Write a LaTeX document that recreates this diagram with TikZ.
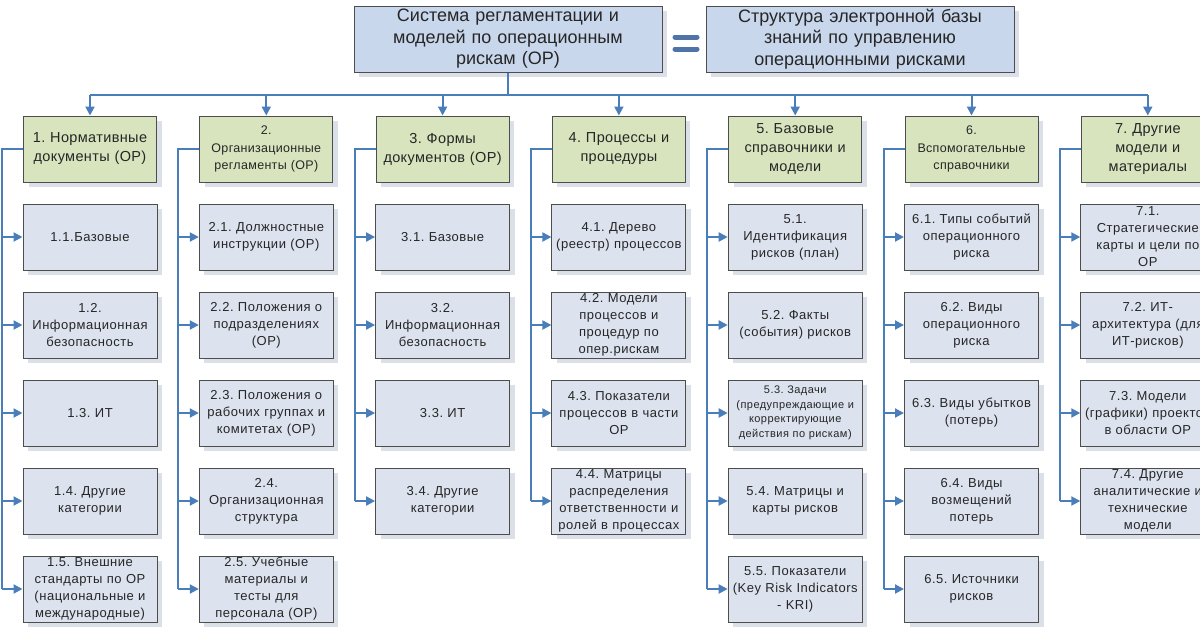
\documentclass[tikz,border=0pt]{standalone}
\usepackage{fontspec}
\setmainfont{Liberation Sans}
\newfontfamily\kidfont[LetterSpace=4]{Liberation Sans}
\newfontfamily\headfont[LetterSpace=2.5]{Liberation Sans}
\frenchspacing
\usetikzlibrary{arrows.meta,shadows}
\definecolor{linec}{HTML}{4A7EBB}
\definecolor{eqc}{HTML}{4F74A8}
\definecolor{topfill}{HTML}{C9D7EC}
\definecolor{headfill}{HTML}{D7E4BD}
\definecolor{kidfill}{HTML}{DCE2EE}
\definecolor{bordc}{HTML}{4D4D4D}
\definecolor{shadc}{HTML}{DADFE8}
\definecolor{txtc}{HTML}{262626}
\tikzset{
  basebox/.style={draw=bordc, line width=1pt, align=center, inner sep=1pt, text=txtc,
    drop shadow={shadow xshift=5pt, shadow yshift=-5pt, fill=shadc, opacity=1}},
  topbox/.style={basebox, fill=topfill, minimum width=308pt, minimum height=66pt, text width=300pt,
    font=\fontsize{18}{21.5}\selectfont},
  headbox/.style={basebox, fill=headfill, minimum width=133pt, minimum height=66pt, text width=130pt,
    font=\headfont\fontsize{14.5}{19}\selectfont},
  headsmall/.style={headbox, font=\headfont\fontsize{12.5}{17.5}\selectfont},
  kidbox/.style={basebox, fill=kidfill, minimum width=133pt, minimum height=66pt, text width=132pt,
    font=\kidfont\fontsize{13}{17}\selectfont},
  kidsmall/.style={kidbox, font=\kidfont\fontsize{11}{14.5}\selectfont},
  conn/.style={draw=linec, line width=2pt},
  arr/.style={conn, -{Triangle[length=9pt,width=9pt]}},
  eqbar/.style={draw=eqc, line width=5pt, line cap=round}
}
\begin{document}
\begin{tikzpicture}[x=1pt,y=-1pt]
\useasboundingbox (0,0) rectangle (1200,630);
\fill[white] (0,0) rectangle (1200,630);
% top
\node[topbox] (sys) at (508,39) {Система регламентации и\\моделей по операционным\\рискам (ОР)};
\node[topbox] (kb) at (860,39) {Структура электронной базы\\знаний по управлению\\операционными рисками};
\draw[eqbar] (675,37) -- (697,37);
\draw[eqbar] (675,49) -- (697,49);
% heads
\node[headbox]   (h1) at (90,149)    {1. Нормативные\\документы (ОР)};
\node[headsmall] (h2) at (266.3,149) {2.\\Организационные\\регламенты (ОР)};
\node[headbox]   (h3) at (442.6,149) {3. Формы\\документов (ОР)};
\node[headbox]   (h4) at (618.9,149) {4. Процессы и\\процедуры};
\node[headbox]   (h5) at (795.2,149) {5. Базовые\\справочники и\\модели};
\node[headsmall] (h6) at (971.5,149) {6.\\Вспомогательные\\справочники};
\node[headbox]   (h7) at (1147.8,149) {7. Другие\\модели и\\материалы};
% bus
\draw[conn] (sys.south) -- ++(0,22) coordinate (busmid);
\draw[conn] (h1.north |- busmid) -- (h7.north |- busmid);
\foreach \i in {1,...,7} {\draw[arr] (h\i.north |- busmid) -- (h\i.north);}
% column 1
\node[kidbox] (c11) at (90,237) {1.1.Базовые};
\node[kidbox] (c12) at (90,325) {1.2.\\Информационная\\безопасность};
\node[kidbox] (c13) at (90,413) {1.3. ИТ};
\node[kidbox] (c14) at (90,501) {1.4. Другие\\категории};
\node[kidbox] (c15) at (90,589) {1.5. Внешние\\стандарты по ОР\\(национальные и\\международные)};
% column 2
\node[kidbox] (c21) at (266.3,237) {2.1. Должностные\\инструкции (ОР)};
\node[kidbox] (c22) at (266.3,325) {2.2. Положения о\\подразделениях\\(ОР)};
\node[kidbox] (c23) at (266.3,413) {2.3. Положения о\\рабочих группах и\\комитетах (ОР)};
\node[kidbox] (c24) at (266.3,501) {2.4.\\Организационная\\структура};
\node[kidbox] (c25) at (266.3,589) {2.5. Учебные\\материалы и\\тесты для\\персонала (ОР)};
% column 3
\node[kidbox] (c31) at (442.6,237) {3.1. Базовые};
\node[kidbox] (c32) at (442.6,325) {3.2.\\Информационная\\безопасность};
\node[kidbox] (c33) at (442.6,413) {3.3. ИТ};
\node[kidbox] (c34) at (442.6,501) {3.4. Другие\\категории};
% column 4
\node[kidbox] (c41) at (618.9,237) {4.1. Дерево\\(реестр) процессов};
\node[kidbox] (c42) at (618.9,325) {4.2. Модели\\процессов и\\процедур по\\опер.рискам};
\node[kidbox] (c43) at (618.9,413) {4.3. Показатели\\процессов в части\\ОР};
\node[kidbox] (c44) at (618.9,501) {4.4. Матрицы\\распределения\\ответственности и\\ролей в процессах};
% column 5
\node[kidbox]   (c51) at (795.2,237) {5.1.\\Идентификация\\рисков (план)};
\node[kidbox]   (c52) at (795.2,325) {5.2. Факты\\(события) рисков};
\node[kidsmall] (c53) at (795.2,413) {5.3. Задачи\\(предупреждающие и\\корректирующие\\действия по рискам)};
\node[kidbox]   (c54) at (795.2,501) {5.4. Матрицы и\\карты рисков};
\node[kidbox]   (c55) at (795.2,589) {5.5. Показатели\\(Key Risk Indicators\\- KRI)};
% column 6
\node[kidbox] (c61) at (971.5,237) {6.1. Типы событий\\операционного\\риска};
\node[kidbox] (c62) at (971.5,325) {6.2. Виды\\операционного\\риска};
\node[kidbox] (c63) at (971.5,413) {6.3. Виды убытков\\(потерь)};
\node[kidbox] (c64) at (971.5,501) {6.4. Виды\\возмещений\\потерь};
\node[kidbox] (c65) at (971.5,589) {6.5. Источники\\рисков};
% column 7
\node[kidbox] (c71) at (1147.8,237) {7.1.\\Стратегические\\карты и цели по\\ОР};
\node[kidbox] (c72) at (1147.8,325) {7.2. ИТ-\\архитектура (для\\ИТ-рисков)};
\node[kidbox] (c73) at (1147.8,413) {7.3. Модели\\(графики) проектов\\в области ОР};
\node[kidbox] (c74) at (1147.8,501) {7.4. Другие\\аналитические и\\технические\\модели};
% spines
\foreach \c/\last in {1/5,2/5,3/4,4/4,5/5,6/5,7/4} {
  \draw[conn] (h\c.west) -- ++(-21,0) coordinate (s\c) -- (s\c |- c\c\last.west);
  \foreach \r in {1,...,\last} {\draw[arr] (s\c |- c\c\r.west) -- (c\c\r.west);}
}
\end{tikzpicture}
\end{document}
